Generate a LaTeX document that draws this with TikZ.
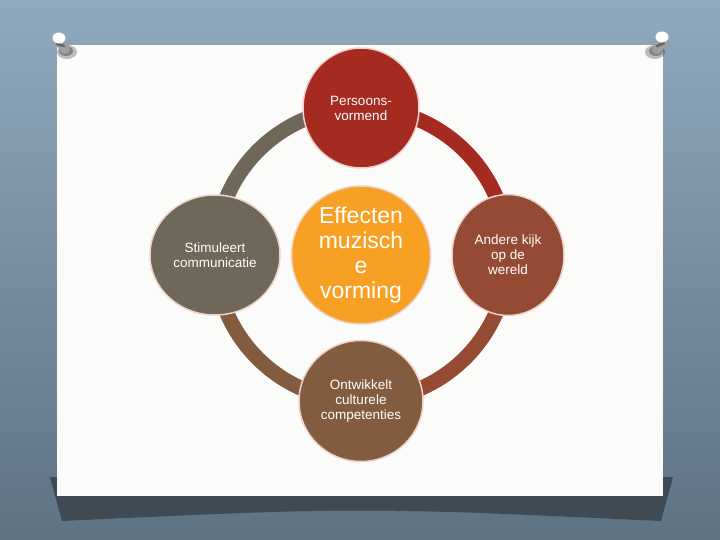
\documentclass[tikz,border=0pt]{standalone}
\usepackage{fontspec}
\setmainfont{Liberation Sans}
\usetikzlibrary{shapes.geometric}
\definecolor{wallhi}{HTML}{90A9BD}
\definecolor{walllo}{HTML}{5E7282}
\definecolor{slideshadow}{HTML}{3E4A54}
\definecolor{paper}{HTML}{FBFBFA}
\definecolor{edge}{HTML}{EBD3CC}
\definecolor{persred}{HTML}{A52A1F}
\definecolor{stimgray}{HTML}{6F6757}
\definecolor{effor}{HTML}{F8A023}
\definecolor{anderrust}{HTML}{944A33}
\definecolor{ontwbrown}{HTML}{835C40}
\pgfdeclarelayer{board}
\pgfdeclarelayer{ring}
\pgfsetlayers{board,ring,main}

\begin{document}
\begin{tikzpicture}[x=1pt,y=-1pt,
        bubble/.style={ellipse,draw=edge,line width=1.5pt,text=white,
            align=center,inner sep=0pt,font=\fontsize{13.5}{15}\selectfont},
        ring/.style={line width=15pt},
        pin/.style={line width=10pt,line cap=round}]
\useasboundingbox (0,0) rectangle (720,540);

\begin{pgfonlayer}{board}
 \shade[top color=wallhi,bottom color=walllo] (0,0) rectangle (720,540);
 \fill[slideshadow] (50,477) -- (673,477) -- (661,521) .. controls (361,507) .. (62,521) -- cycle;
 \fill[paper] (57,45) rectangle (663,496);
 % pins
 \fill[black,opacity=0.25] (67,52) ellipse (10 and 7);
 \fill[black,opacity=0.3] (66,51) ellipse (7 and 5);
 \draw[pin,gray!75] (59,40) -- (65,49);
 \draw[pin,black!60,line width=2.5pt] (57,44) -- (64,46);
 \fill[white] (59,38) ellipse (6.5 and 5.5);
 \fill[black,opacity=0.25] (655,52) ellipse (10 and 7);
 \fill[black,opacity=0.3] (656,51) ellipse (7 and 5);
 \draw[pin,gray!75] (662,39) -- (657,49);
 \draw[pin,black!60,line width=2.5pt] (657,46) -- (664,43);
 \fill[white] (662,37) ellipse (6.5 and 5.5);
\end{pgfonlayer}

\node[bubble,fill=effor,minimum width=139,minimum height=138,
    font=\fontsize{23}{25}\selectfont] (eff) at (361,255) {Effecten\\muzisch\\e\\vorming};
\node[bubble,fill=persred,minimum width=116,minimum height=120] (pers) at (361,108) {Persoons-\\vormend};
\node[bubble,fill=stimgray,minimum width=130,minimum height=120] (stim) at (215,255) {Stimuleert\\communicatie};
\node[bubble,fill=anderrust,minimum width=112,minimum height=121] (ander) at (508,255) {Andere kijk\\op de\\wereld};
\node[bubble,fill=ontwbrown,minimum width=124,minimum height=121] (ontw) at (361,401) {Ontwikkelt\\culturele\\competenties};

\begin{pgfonlayer}{ring}
 \draw[ring,stimgray] (stim.center) to[out=90,in=180] (pers.center);
 \draw[ring,persred] (pers.center) to[out=0,in=90] (ander.center);
 \draw[ring,anderrust] (ander.center) to[out=-90,in=0] (ontw.center);
 \draw[ring,ontwbrown] (ontw.center) to[out=180,in=-90] (stim.center);
\end{pgfonlayer}

\end{tikzpicture}
\end{document}
